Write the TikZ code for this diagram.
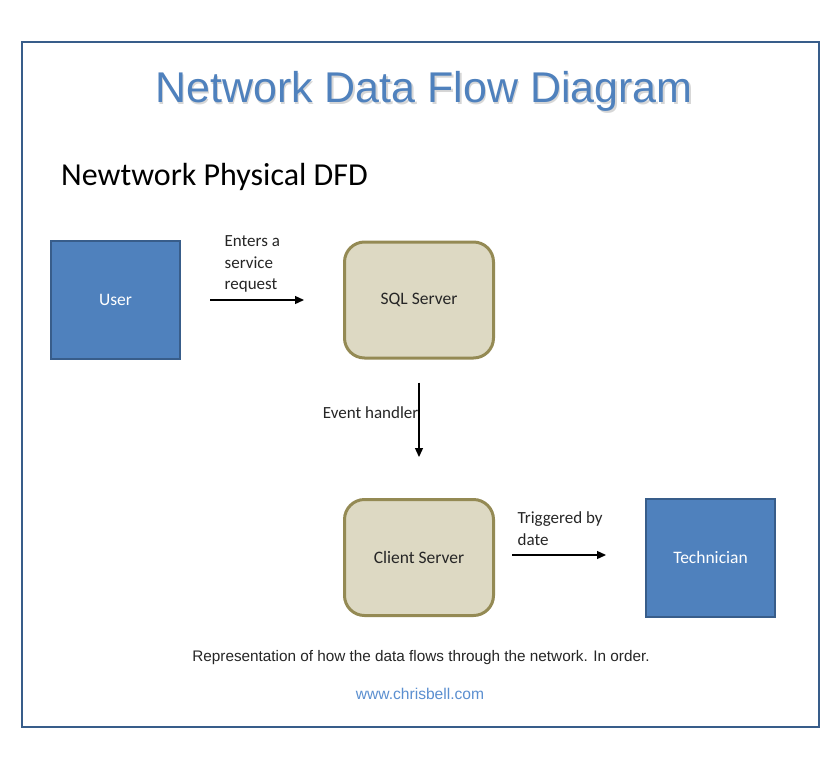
\documentclass[tikz,border=0pt]{standalone}
\usepackage{fontspec}
\setmainfont{Liberation Sans}
\newfontfamily\calibri{Carlito}
\usetikzlibrary{arrows.meta}
\definecolor{dfdblue}{HTML}{4F81BD}
\definecolor{dfdedge}{HTML}{385D8A}
\definecolor{dfdtan}{HTML}{DDD9C3}
\definecolor{dfdolive}{HTML}{948A54}
\definecolor{dfdlink}{HTML}{5B8FD0}
\tikzset{
  entity/.style={draw=dfdedge,fill=dfdblue,line width=2pt,minimum width=129pt,minimum height=118pt,text=white,font=\calibri\fontsize{17.5}{20}\selectfont},
  process/.style={draw=dfdolive,fill=dfdtan,line width=3pt,rounded corners=20pt,minimum width=149pt,minimum height=116pt,text=black!85,font=\calibri\fontsize{17.5}{20}\selectfont},
  flow/.style={-{Triangle[length=9pt,width=8pt]},line width=1.3pt},
  flowlabel/.style={align=left,inner sep=0pt,text=black!85,font=\calibri\fontsize{17}{21.5}\selectfont}
}
\begin{document}
\begin{tikzpicture}[x=1pt,y=-1pt]
\fill[white] (0,0) rectangle (840,763);
\draw[dfdedge,line width=2.5pt] (22,42) rectangle (819,727);
\node[text=black!35,opacity=.45,font=\fontsize{43}{50}\selectfont] at (425.5,93.5) {Network Data Flow Diagram};
\node (title) [text=dfdblue,font=\fontsize{43}{50}\selectfont] at (424,91) {Network Data Flow Diagram};
\node (sub) [anchor=west,inner sep=0pt,font=\calibri\fontsize{32}{36}\selectfont] at (61,177) {Newtwork Physical DFD};
\node (user) [entity] at (115.5,300) {User};
\node (sql) [process] at (419,300) {SQL Server};
\node (client) [process] at (419,557.5) {Client Server};
\node (tech) [entity] at (710.5,557.5) {Technician};
\draw[flow] ([xshift=29pt]user.east) -- ([xshift=-39pt]sql.west)
  node[pos=0,flowlabel,anchor=south west,xshift=14pt,yshift=7pt] {Enters a\\service\\request};
\draw[flow] ([yshift=-23pt]sql.south) -- ([yshift=41pt]client.north)
  node[pos=.4,flowlabel,anchor=east] {Event handler};
\draw[flow] ([xshift=17pt,yshift=2.5pt]client.east) -- ([xshift=-39pt,yshift=2.5pt]tech.west)
  node[pos=0,flowlabel,anchor=south west,xshift=5pt,yshift=9pt] {Triggered by\\date};
\node (caption) [text=black!85,font=\fontsize{15.3}{17}\selectfont] at (421,658) {Representation of how the data flows through the network. In order.};
\node (link) [text=dfdlink,font=\fontsize{15.6}{17}\selectfont] at (420,694) {www.chrisbell.com};
\end{tikzpicture}
\end{document}
